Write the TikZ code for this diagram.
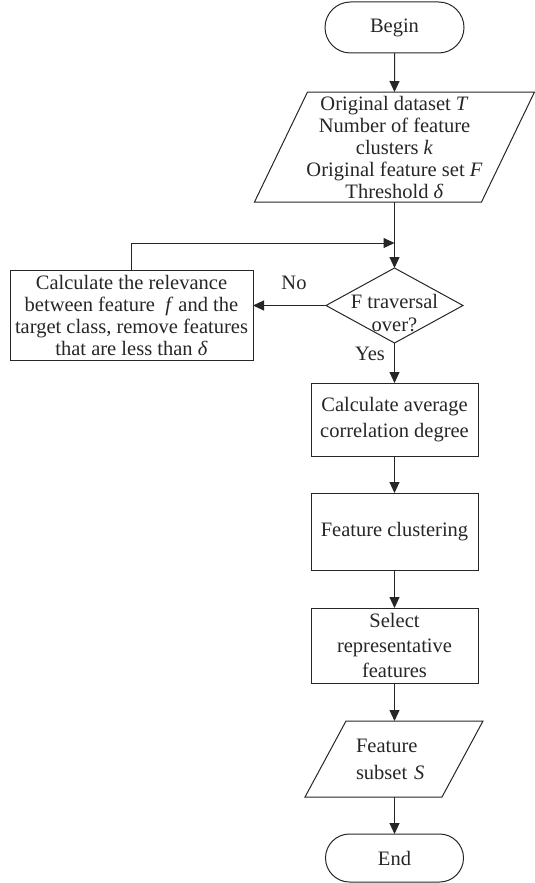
\documentclass[tikz,border=0pt]{standalone}
\usepackage{fontspec}
\setmainfont{Liberation Serif}
\usetikzlibrary{arrows.meta,shapes.misc,shapes.geometric}
\begin{document}
\begin{tikzpicture}[x=1pt,y=-1pt,
  every node/.style={font=\fontsize{20.5}{22}\selectfont, inner sep=0pt, outer sep=0pt, text=black!85},
  line/.style={line width=1pt, draw=black!85},
  arr/.style={line, -{Triangle[length=11pt,width=10pt]}},
  terminal/.style={line, rounded rectangle, minimum width=139pt, minimum height=51pt},
  procbox/.style={line, rectangle, minimum width=167pt, align=center},
  iobox/.style={rectangle, align=center},
  lbl/.style={}
]
\useasboundingbox (0,0) rectangle (535,883);

% terminals
\node[terminal] (begin) at (394.5,27.5) {Begin};
\node[terminal, minimum width=138pt, minimum height=48pt] (end) at (394.5,858) {End};

% input parallelogram
\node[iobox, minimum width=227pt, minimum height=110pt] (in) at (394.5,147)
  {Original dataset \textit{T}\\Number of feature\\clusters \textit{k}\\Original feature set \textit{F}\\Threshold \textit{δ}};
\draw[line] ([xshift=26.5pt]in.north west) -- ([xshift=26.5pt]in.north east)
  -- ([xshift=-26.5pt]in.south east) -- ([xshift=-26.5pt]in.south west) -- cycle;

% decision
\node[line, diamond, minimum width=137pt, minimum height=75pt] (dec) at (394.5,305.5) {};
\node[align=center, font=\fontsize{20.5}{23}\selectfont] (dectext) at (394.5,313) {F traversal\\over?};

% left box
\node[procbox, minimum width=243pt, minimum height=90pt, font=\fontsize{20.5}{22}\selectfont] (calc) at (131.5,315)
  {Calculate the relevance\\between feature\ \ \textit{f} and the\\target class, remove features\\that are less than \textit{δ}};

% main boxes
\node[procbox, minimum height=73pt, font=\fontsize{20.5}{26}\selectfont] (avg) at (394.5,419.5) {Calculate average\\correlation degree};
\node[procbox, minimum height=77pt] (clu) at (394.5,531.5) {Feature clustering};
\node[procbox, minimum height=75pt, font=\fontsize{20.5}{25}\selectfont] (sel) at (394.5,645.5) {Select\\representative\\features};

% output parallelogram
\node[iobox, align=left, inner xsep=30.5pt, text width=76pt, minimum height=76pt, font=\fontsize{20.5}{27}\selectfont] (out) at (394,759) {Feature\\subset \textit{S}};
\draw[line] ([xshift=20.5pt]out.north west) -- ([xshift=20.5pt]out.north east)
  -- ([xshift=-20.5pt]out.south east) -- ([xshift=-20.5pt]out.south west) -- cycle;

% connectors
\coordinate (loop) at (394.5,243);
\draw[arr] (begin) -- (in);
\draw[arr] (in.south) -- (dec.north);
\draw[arr] (calc.north) |- (loop);
\draw[arr] (dec.west) -- (dec.west -| calc.east);
\draw[arr] (dec.south) -- (avg.north);
\draw[arr] (avg) -- (clu);
\draw[arr] (clu) -- (sel);
\draw[arr] (sel.south) -- (sel.south |- out.north);
\draw[arr] (out.south -| end.north) -- (end.north);

% labels
\node[lbl] (no) at (294,283) {No};
\node[lbl] (yes) at (370,354) {Yes};
\end{tikzpicture}
\end{document}
